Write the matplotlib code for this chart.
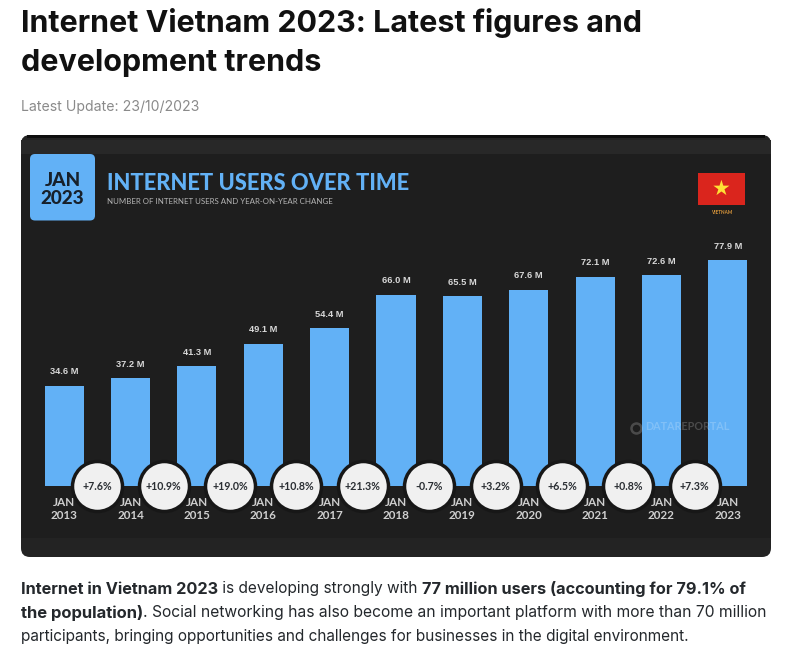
import matplotlib
matplotlib.use("Agg")
import matplotlib.pyplot as plt
from matplotlib.patches import FancyBboxPatch, Rectangle

years = ["2013", "2014", "2015", "2016", "2017", "2018", "2019", "2020", "2021", "2022", "2023"]
users = [34.6, 37.2, 41.3, 49.1, 54.4, 66.0, 65.5, 67.6, 72.1, 72.6, 77.9]
changes = ["+7.6%", "+10.9%", "+19.0%", "+10.8%", "+21.3%", "-0.7%", "+3.2%", "+6.5%", "+0.8%", "+7.3%"]

W, H = 798, 665
fig = plt.figure(figsize=(W / 100, H / 100), dpi=100, facecolor="white")

bg = fig.add_axes([0, 0, 1, 1], zorder=0)
bg.set_xlim(0, W); bg.set_ylim(H, 0); bg.axis("off")

BLUE = "#62B1F6"
CARD = "#1E1E1E"
PAGE = "#111111"

def px(p):
    return p * 0.72

bg.text(21, 23, "Internet Vietnam 2023: Latest figures and", fontsize=px(30.45), fontweight="bold",
        family="Inter", color=PAGE, va="center")
bg.text(21, 63, "development trends", fontsize=px(30.45), fontweight="bold",
        family="Inter", color=PAGE, va="center")
bg.text(21, 106.5, "Latest Update: 23/10/2023", fontsize=px(14.05), family="Inter", color="#8A8A8A", va="center")

# card
bg.add_patch(FancyBboxPatch((21, 135), 750, 422, boxstyle="round,pad=0,rounding_size=9", fc="#232323", ec="none"))
bg.add_patch(Rectangle((21, 154), 750, 384, fc=CARD, ec="none"))
bg.add_patch(Rectangle((21, 140), 750, 14, fc="#282828", ec="none"))
bg.add_patch(Rectangle((27, 135), 738, 3, fc="#0E0E0E", ec="none"))

# date badge
bg.add_patch(FancyBboxPatch((30, 154), 65, 66.5, boxstyle="round,pad=0,rounding_size=5", fc=BLUE, ec="none"))
bg.text(62.5, 180, "JAN", fontsize=px(19), fontweight="black", family="Lato", color="#17202A", ha="center", va="center")
bg.text(62.5, 199, "2023", fontsize=px(19), fontweight="black", family="Lato", color="#17202A", ha="center", va="center")
bg.text(107, 183, "INTERNET USERS OVER TIME", fontsize=px(21.85), fontweight="black", family="Lato",
        color=BLUE, va="center")
bg.text(107, 202, "NUMBER OF INTERNET USERS AND YEAR-ON-YEAR CHANGE", fontsize=px(7.85), family="Lato",
        color="#B5B5B5", va="center")

# flag
bg.add_patch(Rectangle((698, 173), 47, 32, fc="#DA251D", ec="none"))
bg.text(721.5, 189, "\u2605", fontsize=px(21), color="#FFE135", ha="center", va="center", family="DejaVu Sans")
bg.text(721.5, 212, "VIETNAM", fontsize=px(4.6), fontweight="bold", family="Lato", color="#D9963A", ha="center", va="center")

# body paragraph with mixed weights
runs = [
    [("Internet in Vietnam 2023", True), (" is developing strongly with ", False),
     ("77 million users (accounting for 79.1% of", True)],
    [("the population)", True), (". Social networking has also become an important platform with more than 70 million", False)],
    [("participants, bringing opportunities and challenges for businesses in the digital environment.", False)],
]
line_sizes = [(16.3, 15.45), (16.6, 15.65), (16.3, 15.37)]
rend = fig.canvas.get_renderer()
for line, y, (bold_px, reg_px) in zip(runs, [589, 613, 637], line_sizes):
    x = 21
    for s, b in line:
        size = px(bold_px) if b else px(reg_px)
        weight = "bold" if b else "normal"
        bg.text(x, y, s, fontsize=size, fontweight=weight, family="Inter", color="#24282C", va="center")
        probe = bg.text(0, 0, s.replace(" ", "\u00a0"), fontsize=size, fontweight=weight, family="Inter")
        x += probe.get_window_extent(rend).width
        probe.remove()

# bars: baseline at y=486 px, 2.9 px per million
ax = fig.add_axes([31 / W, (H - 486) / H, 730 / W, 260 / H], zorder=1)
ax.patch.set_alpha(0)
ax.set_xlim(-0.5, 10.5)
ax.set_ylim(0, 260 / 2.9)
ax.axis("off")
xs = list(range(len(years)))
ax.bar(xs, users, width=0.59, color=BLUE, linewidth=0, zorder=2)
for x, v in zip(xs, users):
    ax.annotate(f"{v:.1f} M", (x, v), xytext=(0, px(14)), textcoords="offset points", ha="center", va="center",
                fontsize=px(9.3), fontweight="bold", family="Liberation Sans", color="#D8D8D8")
    ax.annotate(f"JAN\n{years[x]}", (x, 0), xytext=(0, px(-23)), textcoords="offset points", ha="center", va="center",
                fontsize=px(11.6), fontweight="bold", family="Lato", color="#CFCFCF", linespacing=1.25)
for i, c in enumerate(changes):
    ax.plot([i + 0.5], [0], "o", ms=px(50), mfc="#F0F0F0", mec="#171717", mew=px(3.5), clip_on=False, zorder=5)
    ax.text(i + 0.5, 0, c, ha="center", va="center", fontsize=px(10.6), fontweight="bold", family="Lato",
            color="#2A2E33", zorder=6, clip_on=False)

# translucent watermark
ax.text((687 - 31) / 730, (486 - 427) / 260, "DATAREPORTAL", transform=ax.transAxes, ha="center", va="center",
        fontsize=px(10.8), fontweight="bold", family="Lato", color="white", alpha=0.2, zorder=4)
ax.plot([(636 - 31) / 730], [(486 - 428) / 260], "o", transform=ax.transAxes, ms=px(10), mfc="none",
        mec="white", mew=px(2.5), alpha=0.2, zorder=4)

fig.savefig("out.png", dpi=100, facecolor="white")
